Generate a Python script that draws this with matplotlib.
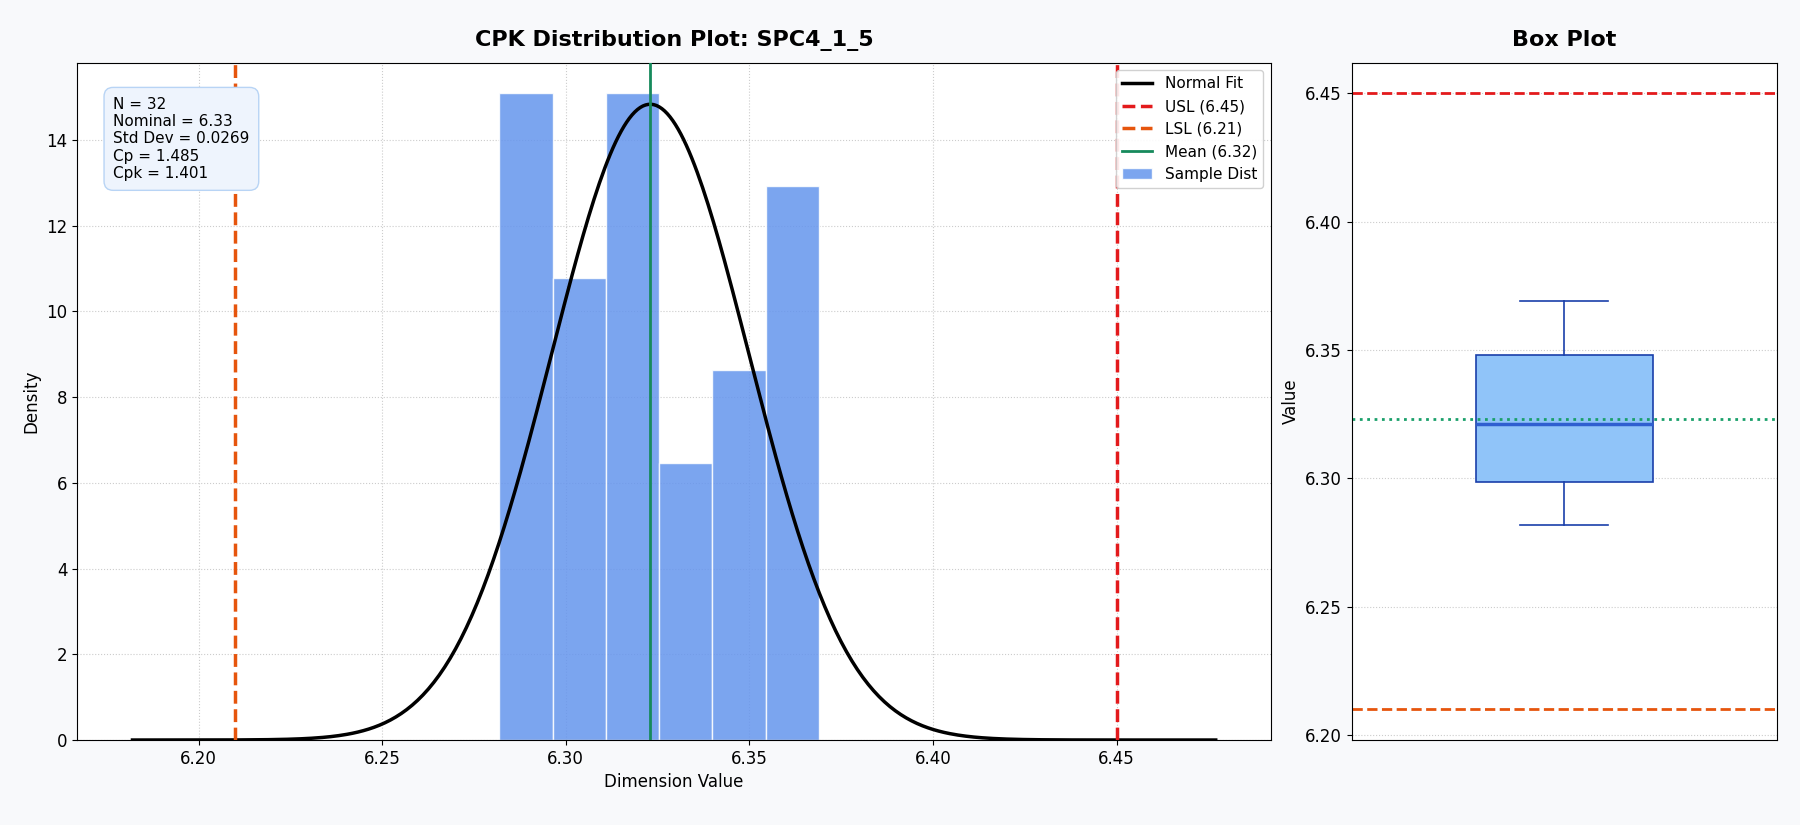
import matplotlib

matplotlib.use("Agg")
import matplotlib.pyplot as plt
import numpy as np

BG = "#f8f9fb"

# histogram data
bin_edges = [6.2819, 6.2964, 6.3109, 6.3254, 6.3399, 6.3544, 6.3689]
counts = [7, 5, 7, 3, 4, 6]
n_samples = 32
mean = 6.323
std = 0.0269
nominal = 6.33
usl, lsl = 6.45, 6.21
cp, cpk = 1.485, 1.401
fit_range = (6.182, 6.477)

# box plot stats
box_stats = dict(whislo=6.282, q1=6.2985, med=6.321, q3=6.348, whishi=6.369)

fig = plt.figure(figsize=(18, 8.25), dpi=100)
fig.patch.set_facecolor(BG)
ax = fig.add_axes([0.043, 0.103, 0.663, 0.821])
axb = fig.add_axes([0.751, 0.103, 0.236, 0.821])

edges = np.array(bin_edges)
widths = np.diff(edges)
dens = np.array(counts) / (n_samples * widths)
ax.bar(edges[:-1], dens, width=widths, align="edge", color="#6495ED", alpha=0.85,
       edgecolor="white", linewidth=1, label="Sample Dist", zorder=2)

x = np.linspace(*fit_range, 400)
pdf = np.exp(-0.5 * ((x - mean) / std) ** 2) / (std * np.sqrt(2 * np.pi))
ax.plot(x, pdf, color="black", lw=2.5, label="Normal Fit", zorder=3)
ax.axvline(usl, color="#e31a1c", ls="--", lw=2.5, label=f"USL ({usl:.2f})", zorder=3)
ax.axvline(lsl, color="#e6550d", ls="--", lw=2.5, label=f"LSL ({lsl:.2f})", zorder=3)
ax.axvline(mean, color="#168a5c", lw=2, label=f"Mean ({mean:.2f})", zorder=3)

ax.set_xlim(6.167, 6.492)
ax.set_ylim(0, 15.8)
ax.grid(True, ls=":", color="#cccccc", zorder=0)
ax.set_axisbelow(True)
ax.set_xlabel("Dimension Value", fontsize=12)
ax.set_ylabel("Density", fontsize=12)
ax.set_title("CPK Distribution Plot: SPC4_1_5", fontsize=16, fontweight="bold", pad=12)
ax.tick_params(labelsize=12)
ax.legend(loc="upper right", fontsize=11, framealpha=0.9)
info = (f"N = {n_samples}\nNominal = {nominal:.2f}\nStd Dev = {std:.4f}\n"
        f"Cp = {cp:.3f}\nCpk = {cpk:.3f}")
ax.text(0.03, 0.95, info, transform=ax.transAxes, va="top", fontsize=11,
        bbox=dict(boxstyle="round,pad=0.6", fc="#eef4fd", ec="#b8d4f5"))

axb.bxp([box_stats], showfliers=False, widths=0.5, patch_artist=True,
        boxprops=dict(facecolor="#90c4f9", edgecolor="#1a3faa", linewidth=1.2),
        medianprops=dict(color="#2f5fd0", linewidth=2.5),
        whiskerprops=dict(color="#1a3faa", linewidth=1.2),
        capprops=dict(color="#1a3faa", linewidth=1.2))
axb.axhline(usl, color="#e31a1c", ls="--", lw=2)
axb.axhline(lsl, color="#e6550d", ls="--", lw=2)
axb.axhline(mean, color="#1aa06a", ls=":", lw=2)
axb.set_ylim(6.198, 6.462)
axb.set_xlim(0.4, 1.6)
axb.set_xticks([])
axb.set_yticks([6.20, 6.25, 6.30, 6.35, 6.40, 6.45])
axb.grid(True, axis="y", ls=":", color="#cccccc")
axb.set_ylabel("Value", fontsize=12)
axb.set_title("Box Plot", fontsize=16, fontweight="bold", pad=12)
axb.tick_params(labelsize=12)

fig.savefig("out.png", dpi=100, facecolor=BG)
